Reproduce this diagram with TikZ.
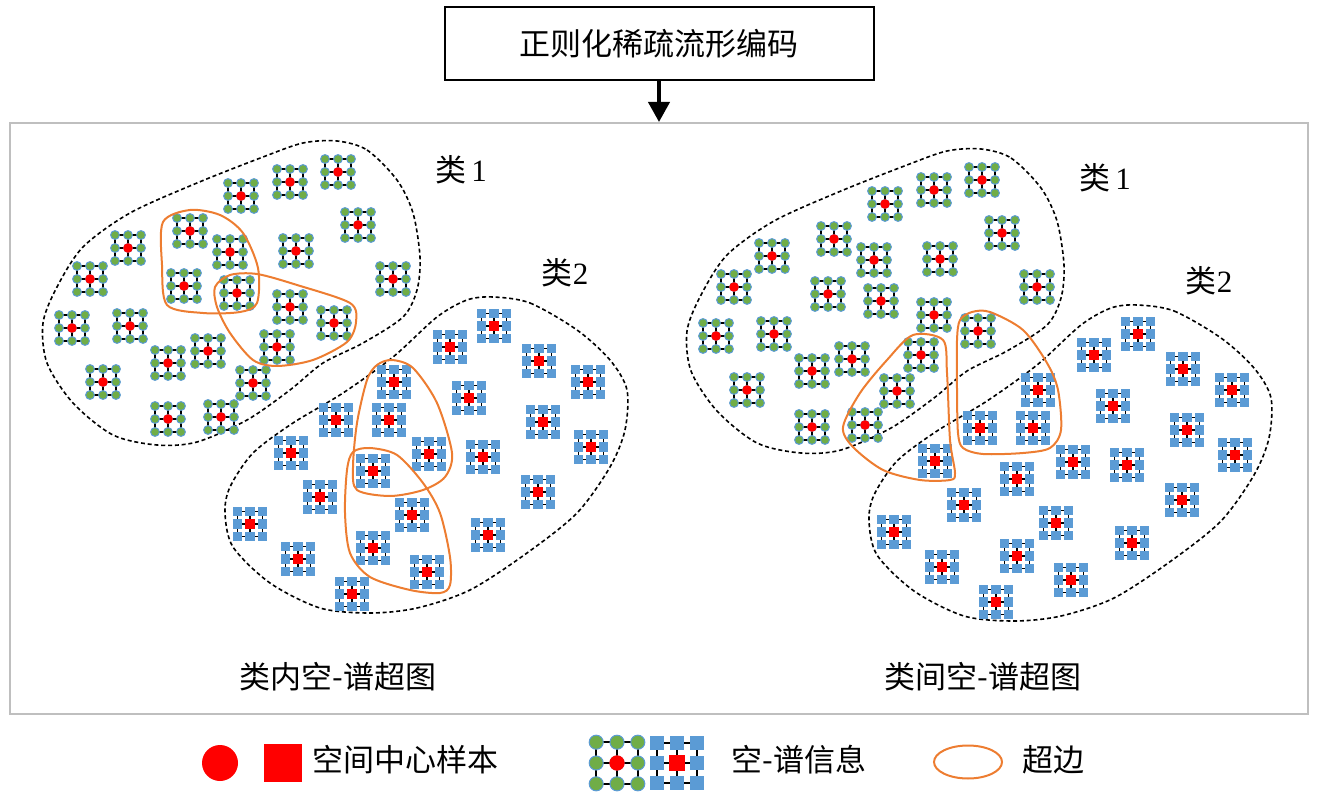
\documentclass[tikz,border=0pt]{standalone}
\usepackage{fontspec}
\setmainfont{Liberation Serif}
\newfontfamily\cjk{Noto Sans CJK SC}
\usetikzlibrary{arrows.meta}
\definecolor{leafgreen}{HTML}{70AD47}
\definecolor{skyblue}{HTML}{5B9BD5}
\definecolor{hyperorange}{HTML}{ED7D31}
\definecolor{framegray}{HTML}{BFBFBF}
\tikzset{
  lab/.style={font=\fontsize{15.5}{18}\selectfont\cjk, inner sep=0pt},
  classline/.style={black, line width=0.8pt, dash pattern=on 2pt off 1.4pt},
  hyper/.style={hyperorange, line width=1pt},
  gridline/.style={black, line width=0.8pt},
  greencell/.pic={
    \foreach \t in {-13,0,13}{\draw[gridline] (-13,\t) -- (13,\t) (\t,-13) -- (\t,13);}
    \foreach \i in {-13,0,13}{\foreach \j in {-13,0,13}{\filldraw[fill=leafgreen, draw=skyblue, line width=0.5pt] (\i,\j) circle (4.4);}}
    \fill[red] (0,0) circle (4.8);
  },
  bluecell/.pic={
    \foreach \t in {-12.5,0,12.5}{\draw[gridline] (-12.5,\t) -- (12.5,\t) (\t,-12.5) -- (\t,12.5);}
    \foreach \i in {-12.5,0,12.5}{\foreach \j in {-12.5,0,12.5}{\fill[skyblue] ({\i-4.6},{\j-4.6}) rectangle ++(9.2,9.2);}}
    \fill[red] (-5,-5) rectangle (5,5);
  }
}
\begin{document}
\begin{tikzpicture}[x=0.5pt,y=-0.5pt]
\useasboundingbox (0,0) rectangle (1320,795);
% --- coding box, frame and arrow
\node[draw, line width=1pt, minimum width=214.5pt, minimum height=36.5pt, lab] (code) at (659,43.5) {正则化稀疏流形编码};
\node[draw=framegray, line width=1pt, minimum width=649pt, minimum height=295.5pt] (panel) at (659,418.5) {};
\draw[line width=2pt, -{Triangle[width=10.5pt, length=10pt]}] (code.south) -- (panel.north);
% --- both hypergraphs share the same samples
\foreach \dx/\dy/\p in {0/0/a,644/8/b}{
\begin{scope}[shift={(\dx,\dy)}]
\draw[classline] plot[smooth cycle] coordinates {(337,141) (367,150) (397,180) (413,213) (420,257) (417,290) (403,317) (363,343) (323,363) (290,390) (247,420) (197,442) (157,445) (113,435) (73,403) (47,363) (43,323) (57,287) (83,247) (130,213) (197,183) (263,157) (303,143)}; % class 1
\draw[classline] plot[smooth cycle] coordinates {(493,297) (530,303) (577,330) (610,360) (627,390) (625,430) (610,467) (577,513) (527,553) (470,590) (417,608) (370,613) (320,608) (270,583) (233,547) (225,513) (230,487) (253,453) (293,423) (343,393) (393,357) (437,317) (467,300)}; % class 2
\foreach \x/\y in {338/172,290/182,241/196,358/225,190/231,230/252,128/248,296/251,393/279,90/279,184/286,237/293,290/307,334/323,72/328,130/326,208/351,277/347,168/363,103/382,253/383,168/419,221/417}
  \pic at (\x,\y) {greencell};
\foreach \x/\y in {494/326,450/347,539/361,394/382,588/382,469/398,336/420,389/420,543/422,591/447,291/453,429/454,483/457,373/471,320/497,538/492,412/515,250/524,488/535,373/548,298/559,427/572,352/594}
  \pic at (\x,\y) {bluecell};
\node[lab] (one-\p) at (461,170) {类\,{\rmfamily 1}};
\node[lab] (two-\p) at (565,273) {类{\rmfamily 2}};
\end{scope}
}
% --- hyperedges, intra-class
\draw[hyper] plot[smooth cycle] coordinates {(163,222) (190,210) (220,215) (243,233) (258,268) (257,303) (240,312) (203,313) (167,305) (162,265)};
\draw[hyper] plot[smooth cycle] coordinates {(215,287) (230,275) (257,274) (297,285) (350,303) (356,322) (347,342) (313,360) (277,366) (253,360) (230,333) (217,307)};
\draw[hyper] plot[smooth cycle] coordinates {(392,360) (413,368) (437,403) (452,453) (445,477) (423,490) (390,496) (357,490) (353,467) (357,423) (367,380) (377,365)};
\draw[hyper] plot[smooth cycle] coordinates {(370,448) (397,455) (423,483) (440,513) (450,557) (450,585) (440,593) (410,590) (370,577) (350,553) (345,513) (347,470) (353,452)};
% --- hyperedges, inter-class
\draw[hyper] plot[smooth cycle] coordinates {(913,335) (943,340) (947,373) (950,440) (955,473) (950,480) (920,480) (883,470) (853,447) (843,427) (860,393) (887,360)};
\draw[hyper] plot[smooth cycle] coordinates {(960,320) (972,312) (990,312) (1023,330) (1047,363) (1058,390) (1061,430) (1050,448) (1023,453) (983,454) (963,448) (958,433) (957,390) (957,340)};
\node[lab] (intra) at (338,677) {类内空-谱超图};
\node[lab] (inter) at (983,677) {类间空-谱超图};
% --- legend
\node[circle, fill=red, minimum size=18pt, inner sep=0pt] (dotkey) at (220,763) {};
\node[fill=red, minimum size=19pt, inner sep=0pt] (boxkey) at (283,763) {};
\node[lab] (centre) at (405,760) {空间中心样本};
\pic[scale=1.6] at (617,763) {greencell};
\pic[scale=1.6] at (677,763) {bluecell};
\node[lab] (info) at (799,760) {空-谱信息};
\draw[hyper] (968,762) ellipse (34 and 16.5);
\node[lab] (edgekey) at (1053,760) {超边};
\end{tikzpicture}
\end{document}
